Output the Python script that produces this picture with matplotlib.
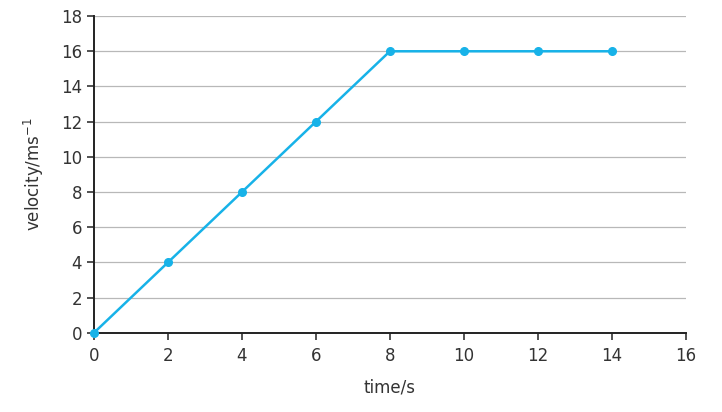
import matplotlib
matplotlib.use("Agg")
import matplotlib.pyplot as plt

# data
time_s = [0, 2, 4, 6, 8, 10, 12, 14]
velocity = [0, 4, 8, 12, 16, 16, 16, 16]
x_ticks = [0, 2, 4, 6, 8, 10, 12, 14, 16]
y_ticks = [0, 2, 4, 6, 8, 10, 12, 14, 16, 18]

plt.rcParams.update({
    "font.family": ["DejaVu Sans"],
    "text.color": "#333333",
    "axes.labelcolor": "#333333",
    "xtick.color": "#333333",
    "ytick.color": "#333333",
})

fig = plt.figure(figsize=(7.22, 4.12), dpi=100)
ax = fig.add_axes([0.130, 0.192, 0.820, 0.769])

ax.plot(time_s, velocity, color="#17b2e8", linewidth=1.8, marker="o",
        markersize=5.5, zorder=3, clip_on=False)

ax.set_xlim(0, 16)
ax.set_ylim(0, 18)
ax.set_xticks(x_ticks)
ax.set_yticks(y_ticks)

# horizontal gridlines only
ax.yaxis.grid(True, color="#b8b8b8", linewidth=0.9)
ax.set_axisbelow(True)

for side in ["top", "right"]:
    ax.spines[side].set_visible(False)
for side in ["left", "bottom"]:
    ax.spines[side].set_color("#222222")
    ax.spines[side].set_linewidth(1.4)

ax.tick_params(axis="both", labelsize=12, length=5, width=1.2, direction="out")
ax.tick_params(axis="x", pad=5)

ax.set_xlabel("time/s", fontsize=12, labelpad=10)
ax.set_ylabel("velocity/ms$^{-1}$", fontsize=12, labelpad=11)

fig.savefig("out.png", dpi=100)
